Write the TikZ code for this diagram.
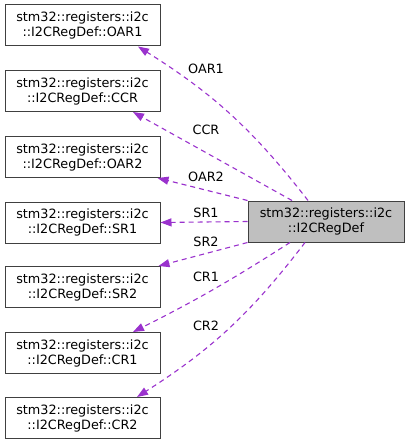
\documentclass[tikz,border=0pt]{standalone}
\usepackage{fontspec}
\setmainfont{DejaVu Sans}
\usepackage{tikz}
\usetikzlibrary{arrows.meta, positioning}
\definecolor{edgePurple}{HTML}{9A32CD}
\definecolor{boxLine}{HTML}{404040}
\definecolor{boxGray}{HTML}{BFBFBF}
\tikzset{
  classbox/.style={rectangle, draw=boxLine, fill=white, line width=1pt,
              minimum width=155pt, minimum height=41pt, inner sep=0pt,
              font=\fontsize{12.8}{15}\selectfont, align=center},
  mainbox/.style={classbox, fill=boxGray, minimum width=156pt},
  member/.style={-{Triangle[length=11pt,width=8pt]}, line width=1.1pt,
              draw=edgePurple, dash pattern=on 5pt off 4pt},
  memberlabel/.style={font=\fontsize{12.8}{15}\selectfont, inner sep=0pt},
}

\begin{document}
\begin{tikzpicture}[x=1pt, y=-1pt]
  \useasboundingbox (0,0) rectangle (409,444);
  % member classes on the left
  \foreach \name/\y in {OAR1/25.5, CCR/91, OAR2/157, SR1/222.5, SR2/287, CR1/353, CR2/418}
    \node[classbox] (\name) at (82.5,\y) {stm32::registers::i2c\\::I2CRegDef::\name};
  \node[mainbox] (main) at (326,221.5) {stm32::registers::i2c\\::I2CRegDef};
  % collaboration edges
  \draw[member] ([xshift=-18pt]main.north) to[bend right=10] ([xshift=55.5pt]OAR1.south);
  \draw[member] ([xshift=-34pt]main.north) -- ([xshift=50.5pt]CCR.south);
  \draw[member] (main.north west) -- ([xshift=-3pt]OAR2.south east);
  \draw[member] (main.west) -- (SR1.east);
  \draw[member] (main.south west) -- ([xshift=-2pt]SR2.north east);
  \draw[member] ([xshift=-36pt]main.south) to[bend left=3] ([xshift=50.5pt]CR1.north);
  \draw[member] ([xshift=-21pt]main.south) to[bend left=10] ([xshift=54.5pt]CR2.north);
  \node[memberlabel] (lOAR1) at (206,69) {OAR1};
  \node[memberlabel] (lCCR) at (206,130) {CCR};
  \node[memberlabel] (lOAR2) at (206,177) {OAR2};
  \node[memberlabel] (lSR1) at (206,213) {SR1};
  \node[memberlabel] (lSR2) at (206,242) {SR2};
  \node[memberlabel] (lCR1) at (206,277) {CR1};
  \node[memberlabel] (lCR2) at (206,326) {CR2};
\end{tikzpicture}
\end{document}
